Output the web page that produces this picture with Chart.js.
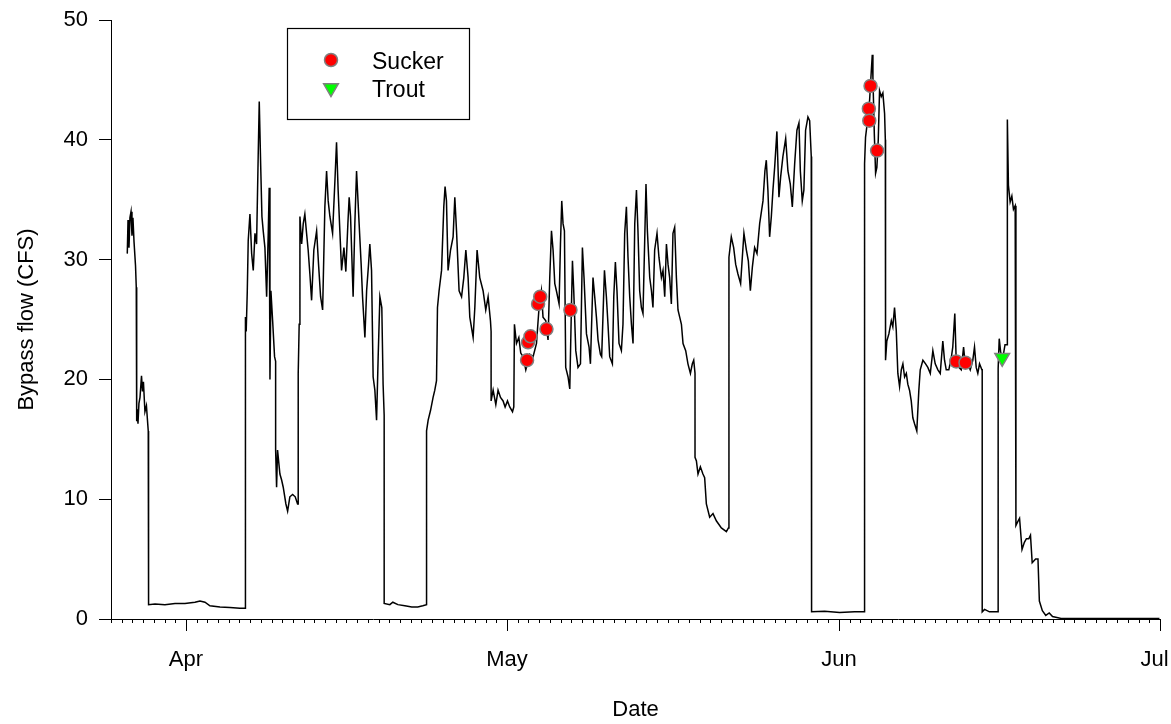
<!DOCTYPE html>
<html>
<head>
<meta charset="utf-8">
<script src="https://cdn.jsdelivr.net/npm/chart.js@4.4.1/dist/chart.umd.min.js"></script>
<style>
  html, body { margin: 0; padding: 0; background: #ffffff; }
  #wrap { width: 1171px; height: 724px; }
</style>
</head>
<body>
<div id="wrap"><canvas id="c" width="1171" height="724"></canvas></div>
<script>
// x values are days since 25 March (day 0); Jul 1 = day 98
const monthTickDays = [7, 37, 68, 98];
const monthTickLabels = ['Apr', 'May', 'Jun', 'Jul'];
const yTickValues = [0, 10, 20, 30, 40, 50];

// Bypass flow time series (days since 25 Mar, CFS)
const flowDay = [
  1.52,1.59,1.68,1.77,1.87,1.96,2.05,2.15,2.29,2.36,2.40,2.40,2.46,2.52,2.61,2.71,2.85,2.94,3.03,3.17,3.31,3.48,3.51,3.51,
  4.11,5.04,5.98,6.91,7.84,8.31,8.78,9.24,10.18,11.11,12.04,12.54,12.54,
  12.58,12.63,12.73,12.82,12.98,13.14,13.29,13.45,13.60,13.75,13.85,13.98,14.10,14.22,14.38,14.54,14.69,14.78,14.85,14.94,15.10,15.28,15.38,15.38,
  15.47,15.56,15.78,15.94,16.09,16.34,16.50,16.71,16.97,17.21,17.43,17.49,17.49,
  17.58,17.65,17.81,17.96,18.11,18.27,18.42,18.58,18.74,18.95,19.21,19.39,19.58,19.77,19.98,20.14,20.29,20.45,20.70,20.92,21.07,21.22,21.38,21.54,21.76,21.94,
  22.13,22.25,22.38,22.62,22.78,22.94,23.18,23.37,23.50,23.72,23.88,24.06,24.18,24.34,24.49,24.65,24.81,24.96,25.12,25.30,25.42,25.52,25.52,
  26.05,26.33,26.80,27.45,28.10,28.66,29.13,29.48,29.48,
  29.63,29.85,30.09,30.25,30.41,30.50,30.65,30.88,31.09,31.21,31.34,31.49,31.72,31.96,32.12,32.28,32.52,32.75,32.96,33.15,33.36,33.52,33.83,33.99,
  34.20,34.45,34.76,35.01,35.23,35.45,35.51,35.51,35.70,35.95,36.16,36.39,36.63,36.82,37.04,37.25,37.51,37.63,
  37.69,37.88,38.10,38.28,38.50,38.75,39.12,39.43,39.75,39.99,40.21,40.36,40.62,40.83,40.99,41.15,41.30,41.46,41.61,41.86,41.99,42.11,42.23,42.36,
  42.48,42.70,42.86,43.02,43.11,43.23,43.42,43.63,43.86,44.04,44.19,44.42,44.66,44.79,45.03,45.19,45.35,45.50,45.72,45.84,46.10,46.28,46.43,46.59,
  46.84,46.97,47.12,47.27,47.46,47.68,47.83,47.99,48.15,48.30,48.46,48.62,48.77,48.93,49.09,49.23,49.39,49.55,49.70,49.86,49.98,50.11,50.33,50.49,
  50.63,50.79,51.01,51.19,51.42,51.57,51.73,51.89,52.04,52.19,52.35,52.50,52.66,52.82,52.97,53.13,53.29,53.44,53.69,53.90,54.13,54.31,54.44,54.56,54.56,
  54.69,54.84,55.06,55.30,55.46,55.62,55.93,56.24,56.55,57.02,57.49,57.68,57.73,57.73,
  57.95,58.17,58.36,58.57,58.82,58.98,59.13,59.36,59.54,59.73,59.92,60.13,60.35,60.60,60.78,60.91,61.09,61.22,61.37,61.53,61.69,61.84,62.00,62.21,
  62.40,62.56,62.77,63.03,63.24,63.46,63.65,63.87,64.08,64.27,64.40,64.58,64.73,64.89,65.11,65.27,65.42,65.45,65.45,
  66.67,68.07,69.47,70.40,70.40,
  70.49,70.61,70.74,70.87,70.96,71.12,71.18,71.31,71.43,71.55,71.68,71.80,71.96,72.11,72.27,72.34,72.36,72.36,
  72.48,72.67,72.90,73.04,73.20,73.36,73.51,73.67,73.83,73.98,74.14,74.30,74.44,74.60,74.76,74.91,75.07,75.28,75.47,75.60,75.85,76.10,76.31,76.54,
  76.78,77.00,77.25,77.47,77.71,77.87,78.03,78.27,78.50,78.64,78.83,78.96,79.21,79.43,79.65,79.83,80.05,80.27,80.51,80.67,80.83,80.98,81.14,81.36,81.39,81.39,
  81.61,82.07,82.54,82.88,82.88,
  82.98,83.11,83.30,83.52,83.68,83.74,83.74,83.84,84.00,84.16,84.31,84.47,84.54,84.54,
  84.70,84.88,85.11,85.33,85.52,85.74,85.90,86.06,86.38,86.60,86.73,87.01,87.33,87.65,87.96,88.76,92.34,97.95
];
const flowCFS = [
  30.5,33.3,31.0,33.5,34.0,32.0,33.5,31.5,29.5,27.7,27.0,16.5,17.5,16.3,18.0,18.5,20.3,19.0,19.8,17.3,17.8,15.7,15.7,1.2,
  1.25,1.2,1.3,1.3,1.4,1.5,1.4,1.1,1.0,0.95,0.9,0.9,23.5,
  25.2,24.0,27.3,31.6,33.8,30.5,29.1,32.2,31.3,38.6,43.2,38.0,33.6,32.4,31.0,26.9,32.2,36.0,20.0,27.4,24.9,21.9,21.5,14.1,
  11.0,14.1,12.1,11.6,11.0,9.6,9.0,10.2,10.4,10.2,9.6,9.6,20.5,
  24.6,33.6,31.3,33.0,33.8,32.2,30.8,28.8,26.6,30.8,32.4,29.6,26.9,25.8,34.4,37.4,34.9,33.6,32.2,36.6,39.8,35.8,32.4,29.1,31.0,29.0,
  33.0,35.2,33.6,26.9,33.0,37.4,33.0,29.6,26.9,23.5,27.4,29.6,31.3,29.1,20.2,19.1,16.6,21.9,26.9,26.0,19.6,17.0,1.3,
  1.2,1.4,1.2,1.1,1.0,1.0,1.1,1.2,15.7,
  16.6,17.4,18.5,19.1,19.9,26.0,27.4,29.1,34.4,36.1,34.9,29.1,30.8,31.9,35.2,32.4,27.4,26.9,28.5,30.8,28.5,25.2,23.5,26.0,
  30.8,28.5,27.4,25.8,26.9,24.9,24.0,18.2,19.1,17.9,19.1,18.5,18.2,17.7,18.2,17.7,17.3,17.7,
  24.6,23.0,23.5,22.2,21.9,20.8,22.1,21.9,23.0,26.0,27.4,25.2,24.9,23.3,28.5,32.4,30.8,28.0,27.4,26.3,31.3,34.9,33.0,32.4,
  21.0,20.2,19.2,26.3,29.9,27.4,22.4,21.0,21.3,31.0,28.5,23.8,22.7,21.3,28.5,26.9,25.2,23.3,22.1,21.9,29.1,26.9,24.6,21.9,
  21.3,26.9,29.8,27.4,23.0,22.4,24.6,32.2,34.4,30.2,26.9,24.6,23.0,33.0,35.8,32.4,27.4,26.0,25.5,31.6,36.3,32.4,28.5,27.4,
  26.0,30.8,32.2,30.2,28.5,29.1,26.9,31.3,29.6,28.5,26.3,32.2,32.7,28.5,25.8,25.2,24.6,23.0,22.4,21.3,20.5,21.3,21.6,20.5,13.5,
  13.2,12.1,12.7,12.1,11.8,9.6,8.5,8.8,8.2,7.6,7.3,7.6,7.6,30.2,
  31.9,31.0,29.6,28.8,28.0,30.2,32.2,30.8,29.9,27.4,29.4,31.0,30.5,33.0,34.1,34.9,37.4,38.3,35.8,31.9,33.6,35.8,37.7,40.7,
  35.2,36.9,38.6,40.1,37.4,36.3,34.4,38.0,40.8,41.4,37.4,34.9,35.8,40.8,41.9,41.6,38.6,38.0,0.6,
  0.65,0.55,0.6,0.6,38.0,
  40.2,41.1,42.2,43.3,44.7,47.1,45.2,40.5,37.2,37.7,40.0,44.1,43.6,43.9,42.2,40.0,40.0,21.6,
  23.2,23.8,24.9,24.4,26.0,24.1,20.5,19.4,20.8,21.3,20.2,20.5,19.6,19.1,18.2,16.8,16.3,15.7,19.1,20.8,21.6,21.3,21.0,20.5,
  22.4,21.3,20.8,20.5,23.2,21.6,20.8,20.8,21.8,22.7,25.5,21.6,21.0,20.8,22.7,21.0,21.3,20.8,21.6,22.7,21.0,20.5,21.3,20.8,20.8,0.6,
  0.8,0.6,0.6,0.6,20.9,
  23.4,22.3,21.7,22.9,22.9,22.9,41.7,36.2,34.8,35.3,34.2,34.5,34.5,7.8,
  8.1,8.4,5.8,6.4,6.7,6.7,7.0,4.7,5.0,5.0,1.5,0.7,0.3,0.5,0.2,0.05,0.05,0.05
];

// Fish detections
const suckerDay = [38.87, 38.96, 39.19, 39.90, 40.10, 40.68, 42.92, 70.80, 70.84, 70.96, 71.57, 78.96, 79.83];
const suckerCFS = [21.6, 23.1, 23.6, 26.3, 26.9, 24.2, 25.8, 42.6, 41.6, 44.5, 39.1, 21.5, 21.4];
const troutDay = [83.26];
const troutCFS = [21.8];

const FONT = '"Liberation Sans", Arial, Helvetica, sans-serif';

const toXY = (xs, ys) => xs.map((x, i) => ({ x: x, y: ys[i] }));

function drawMarker(ctx, style, x, y, r, rotationDeg) {
  ctx.beginPath();
  if (style === 'triangle') {
    let rad = rotationDeg * Math.PI / 180;
    ctx.moveTo(x + Math.sin(rad) * r, y - Math.cos(rad) * r);
    rad += 2 * Math.PI / 3;
    ctx.lineTo(x + Math.sin(rad) * r, y - Math.cos(rad) * r);
    rad += 2 * Math.PI / 3;
    ctx.lineTo(x + Math.sin(rad) * r, y - Math.cos(rad) * r);
    ctx.closePath();
  } else {
    ctx.arc(x, y, r, 0, Math.PI * 2);
  }
  ctx.fill();
  ctx.stroke();
}

// minor (daily) and major (month) tick marks on the date axis
const dayTicksPlugin = {
  id: 'dayTicks',
  afterDraw(chart) {
    const xs = chart.scales.x;
    const ctx = chart.ctx;
    const base = chart.chartArea.bottom;
    ctx.save();
    ctx.strokeStyle = '#000';
    ctx.lineWidth = 1;
    ctx.beginPath();
    for (let d = xs.min; d <= xs.max; d++) {
      const px = Math.round(xs.getPixelForValue(d)) + 0.5;
      const len = monthTickDays.includes(d) ? 12 : 4;
      ctx.moveTo(px, base);
      ctx.lineTo(px, base + len);
    }
    ctx.stroke();
    ctx.restore();
  }
};

// boxed legend inside the plot
const boxLegendPlugin = {
  id: 'boxLegend',
  afterDraw(chart) {
    const ctx = chart.ctx;
    ctx.save();
    ctx.strokeStyle = '#000';
    ctx.lineWidth = 1.2;
    ctx.strokeRect(287.5, 28.5, 182, 91);
    const entries = [chart.data.datasets[1], chart.data.datasets[2]];
    const rowsY = [60, 88];
    entries.forEach((ds, i) => {
      ctx.fillStyle = ds.pointBackgroundColor;
      ctx.strokeStyle = ds.pointBorderColor;
      ctx.lineWidth = ds.pointBorderWidth;
      drawMarker(ctx, ds.pointStyle, 331, rowsY[i], ds.pointRadius, ds.pointRotation || 0);
    });
    ctx.fillStyle = '#000';
    ctx.font = '23px ' + FONT;
    ctx.textAlign = 'left';
    ctx.textBaseline = 'alphabetic';
    ctx.fillText(entries[0].label, 372, 69);
    ctx.fillText(entries[1].label, 372, 97);
    ctx.restore();
  }
};

new Chart(document.getElementById('c'), {
  type: 'scatter',
  data: {
    datasets: [
      {
        label: 'Bypass flow',
        data: toXY(flowDay, flowCFS),
        showLine: true,
        borderColor: '#000000',
        borderWidth: 1.5,
        pointRadius: 0,
        tension: 0,
        fill: false,
        order: 3
      },
      {
        label: 'Sucker',
        data: toXY(suckerDay, suckerCFS),
        showLine: false,
        pointStyle: 'circle',
        pointRadius: 6.5,
        pointBackgroundColor: '#ff0000',
        pointBorderColor: '#808080',
        pointBorderWidth: 1.5,
        backgroundColor: '#ff0000',
        borderColor: '#808080',
        order: 2
      },
      {
        label: 'Trout',
        data: toXY(troutDay, troutCFS),
        showLine: false,
        pointStyle: 'triangle',
        pointRotation: 180,
        pointRadius: 8.5,
        pointBackgroundColor: '#00ff00',
        pointBorderColor: '#808080',
        pointBorderWidth: 1.5,
        backgroundColor: '#00ff00',
        borderColor: '#808080',
        order: 1
      }
    ]
  },
  options: {
    responsive: false,
    animation: false,
    layout: { padding: { top: 20, right: 11, bottom: 0, left: 0 } },
    plugins: {
      legend: { display: false },
      tooltip: { enabled: false },
      title: { display: false }
    },
    scales: {
      x: {
        type: 'linear',
        min: 0,
        max: 98,
        afterBuildTicks: (s) => { s.ticks = monthTickDays.map(v => ({ value: v })); },
        ticks: {
          autoSkip: false,
          maxRotation: 0,
          padding: 28,
          color: '#000',
          font: { family: FONT, size: 22 },
          callback: (v) => {
            const i = monthTickDays.indexOf(v);
            if (i < 0) return '';
            // last label sits just inside the page edge, as in the original
            return i === monthTickLabels.length - 1 ? monthTickLabels[i] + '\u2002' : monthTickLabels[i];
          }
        },
        grid: { display: true, drawOnChartArea: false, drawTicks: false },
        border: { display: true, color: '#000', width: 1 },
        title: {
          display: true, text: 'Date', color: '#000',
          font: { family: FONT, size: 22 },
          padding: { top: 0, bottom: 1 }
        },
        afterFit: (s) => { s.height = 105; s.paddingLeft = 0; s.paddingRight = 0; }
      },
      y: {
        min: 0,
        max: 50,
        afterBuildTicks: (s) => { s.ticks = yTickValues.map(v => ({ value: v })); },
        ticks: {
          padding: 11,
          color: '#000',
          font: { family: FONT, size: 22 }
        },
        grid: { display: true, drawOnChartArea: false, drawTicks: true, tickLength: 12, tickColor: '#000', tickWidth: 1 },
        border: { display: true, color: '#000', width: 1 },
        title: {
          display: true, text: 'Bypass flow (CFS)', color: '#000',
          font: { family: FONT, size: 22 },
          padding: { top: 14, bottom: 0 }
        },
        afterFit: (s) => { s.width = 111; s.paddingTop = 0; s.paddingBottom = 0; }
      }
    }
  },
  plugins: [dayTicksPlugin, boxLegendPlugin]
});
</script>
</body>
</html>
